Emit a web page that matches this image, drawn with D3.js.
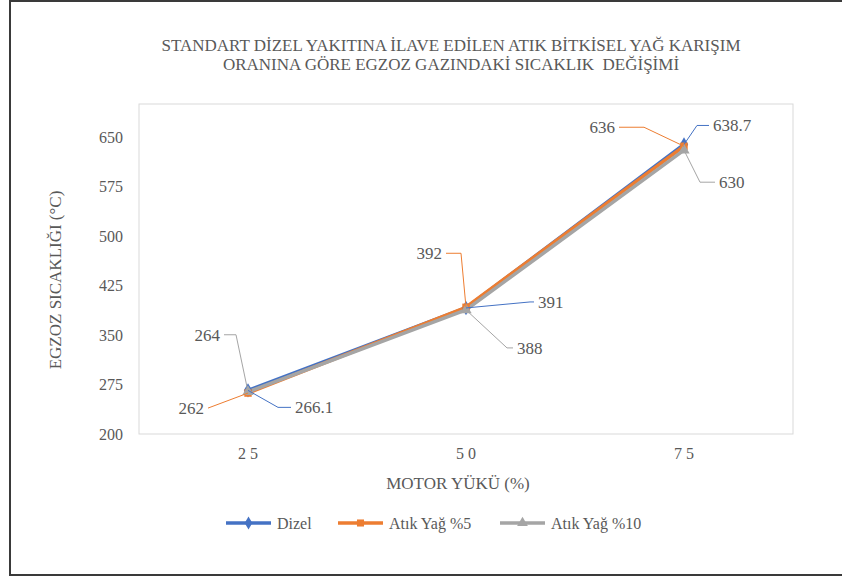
<!DOCTYPE html>
<html><head><meta charset="utf-8">
<script src="https://cdn.jsdelivr.net/npm/d3@7"></script>
<style>body{margin:0;background:#fff}</style>
</head><body><svg id="c" width="842" height="580"></svg>
<script>
const categories = ["25", "50", "75"];
const seriesNames = ["Dizel", "Atık Yağ %5", "Atık Yağ %10"];
const dizel = [266.1, 391, 638.7];
const atik5 = [262, 392, 636];
const atik10 = [264, 388, 630];
const yTicks = [200, 275, 350, 425, 500, 575, 650];
const titleLines = ["STANDART DİZEL YAKITINA İLAVE EDİLEN ATIK BİTKİSEL YAĞ KARIŞIM", "ORANINA GÖRE EGZOZ GAZINDAKİ SICAKLIK  DEĞİŞİMİ"];
const yTitle = "EGZOZ SICAKLIĞI (°C)";
const xTitle = "MOTOR YÜKÜ (%)";

const FONT = "'Liberation Serif', 'Times New Roman', 'DejaVu Serif', serif";
const colors = ["#4472C4", "#ED7D31", "#A5A5A5"];
const symbols = [d3.symbolDiamond, d3.symbolSquare, d3.symbolTriangle];
const series = [dizel, atik5, atik10];
const txt = "#595959";

const svg = d3.select("#c");
const L = 139, R = 793, T = 104, B = 434;
const x = d3.scaleBand().domain(categories).range([L, R]);
const y = d3.scaleLinear().domain([200, 700]).range([B, T]);
const cx = c => x(c) + x.bandwidth() / 2;

// outer frame
svg.append("rect").attr("x", 10).attr("y", 1).attr("width", 840).attr("height", 574)
  .attr("fill", "#fff").attr("stroke", "#3a3a3a").attr("stroke-width", 2);
// plot area
svg.append("rect").attr("x", L).attr("y", T).attr("width", R - L).attr("height", B - T)
  .attr("fill", "none").attr("stroke", "#d9d9d9").attr("stroke-width", 1);

function t(sel) { return sel.attr("font-family", FONT).attr("fill", txt); }

// title
titleLines.forEach((s, i) => t(svg.append("text")).attr("x", 451).attr("y", 51 + i * 19)
  .attr("text-anchor", "middle").attr("font-size", 17).attr("xml:space", "preserve").style("white-space", "pre").text(s));

// y axis
const yAxis = d3.axisLeft(y).tickValues(yTicks).tickSize(0).tickPadding(16);
const gy = svg.append("g").attr("transform", `translate(${L},0)`).call(yAxis);
gy.select(".domain").remove();
t(gy.selectAll("text")).attr("font-size", 16);

// x axis
const xAxis = d3.axisBottom(x).tickSize(0).tickPadding(14).tickFormat(d => d.split("").join(" "));
const gx = svg.append("g").attr("transform", `translate(0,${B})`).call(xAxis);
gx.select(".domain").remove();
t(gx.selectAll("text")).attr("font-size", 16);

t(svg.append("text")).attr("transform", "translate(61,280) rotate(-90)").attr("text-anchor", "middle")
  .attr("font-size", 17).text(yTitle);
t(svg.append("text")).attr("x", 458).attr("y", 489).attr("text-anchor", "middle")
  .attr("font-size", 17).text(xTitle);

// lines
const line = d3.line().x((d, i) => cx(categories[i])).y(d => y(d));
series.forEach((s, k) => {
  svg.append("path").datum(s).attr("d", line).attr("fill", "none")
    .attr("stroke", colors[k]).attr("stroke-width", 3.5).attr("stroke-linejoin", "round");
});
series.forEach((s, k) => {
  svg.selectAll(null).data(s).join("path")
    .attr("transform", (d, i) => `translate(${cx(categories[i])},${y(d)})`)
    .attr("d", d3.symbol(symbols[k], k === 0 ? 60 : 55)).attr("fill", colors[k]);
});

// data labels with leader lines: [series, index, elbowDx, elbowDy, endDx, textAnchor]
const labelLayout = [
  [2, 0, -12, -57, -24, "end"],
  [1, 0, -40, 15, -40, "end"],
  [0, 0, 30, 17, 43, "start"],
  [1, 1, -5, -54, -20, "end"],
  [0, 1, 64, -6, 68, "start"],
  [2, 1, 41, 38, 47, "start"],
  [1, 2, -40, -19, -65, "end"],
  [0, 2, 13, -19, 25, "start"],
  [2, 2, 16, 32, 31, "start"]
];
labelLayout.forEach(([k, i, ex, ey, hx, anchor]) => {
  const px = cx(categories[i]), py = y(series[k][i]);
  svg.append("path").attr("d", `M${px},${py}L${px + ex},${py + ey}L${px + hx},${py + ey}`)
    .attr("fill", "none").attr("stroke", colors[k]).attr("stroke-width", 1);
  t(svg.append("text")).attr("x", px + hx + (anchor === "end" ? -4 : 4)).attr("y", py + ey)
    .attr("dy", "0.35em").attr("text-anchor", anchor).attr("font-size", 17)
    .text(series[k][i]);
});

// legend
const legX = [226, 338, 500];
seriesNames.forEach((n, k) => {
  const g = svg.append("g").attr("transform", `translate(${legX[k]},523)`);
  g.append("line").attr("x1", 0).attr("x2", 45).attr("stroke", colors[k]).attr("stroke-width", 3.5);
  g.append("path").attr("transform", "translate(22.5,0)").attr("d", d3.symbol(symbols[k], 50)).attr("fill", colors[k]);
  t(g.append("text")).attr("x", 51).attr("dy", "0.35em").attr("font-size", 16).text(n);
});
</script></body></html>
